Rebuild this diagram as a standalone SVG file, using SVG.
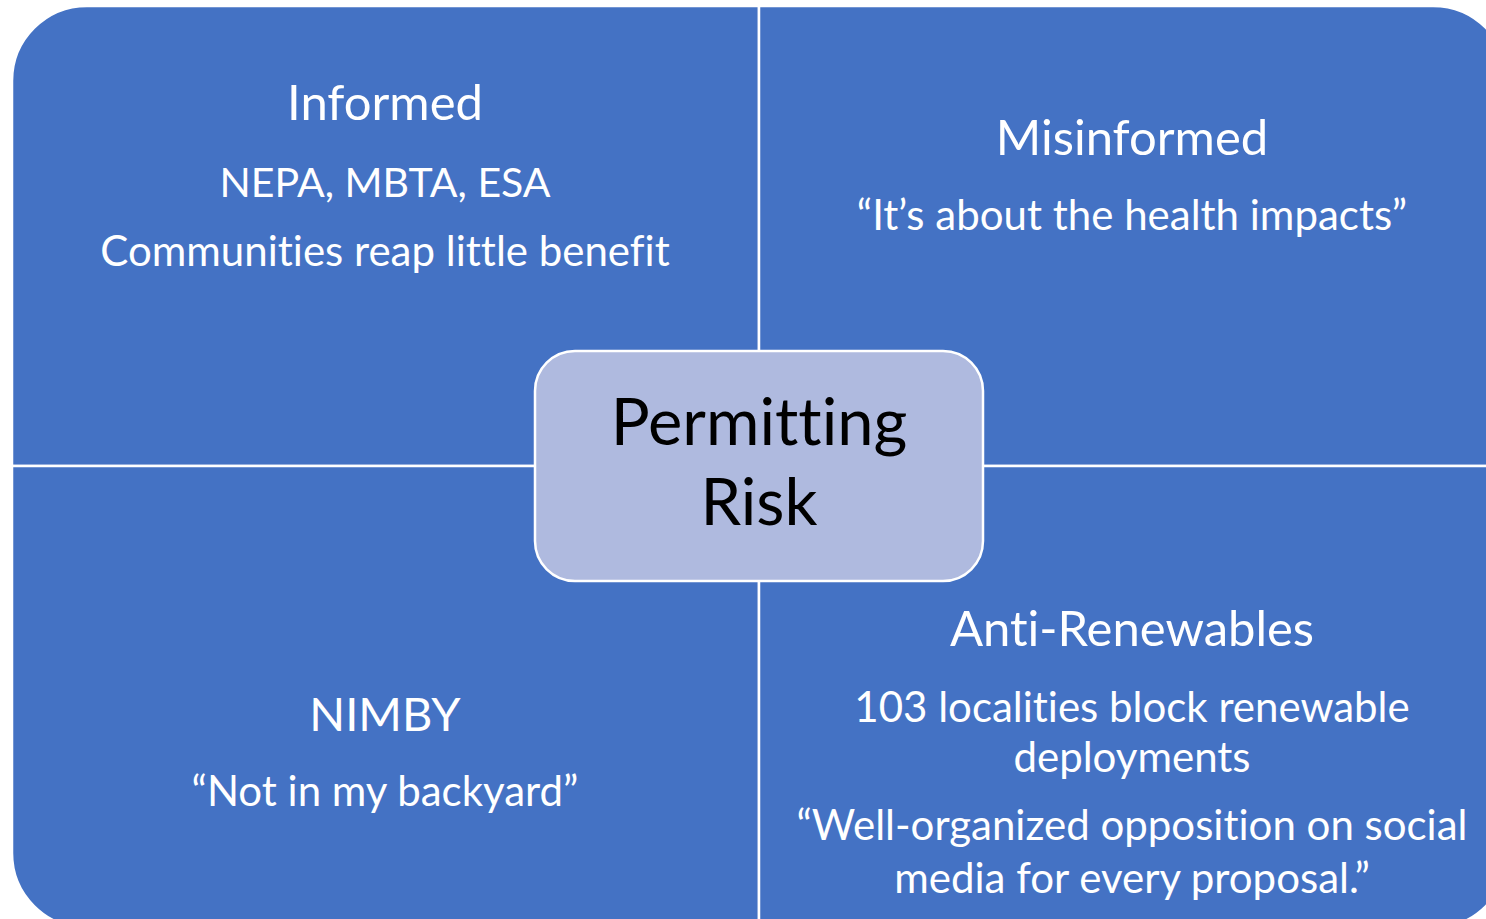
<svg xmlns="http://www.w3.org/2000/svg" width="1486" height="919" viewBox="0 0 1486 919">
<style>
.q{fill:#4472C4;stroke:#FFFFFF;stroke-width:2.5}
.t{font-family:Lato,"Open Sans","Liberation Sans",sans-serif;fill:#FFFFFF;text-anchor:middle;font-variant-ligatures:none;font-feature-settings:"liga" 0,"clig" 0}
.h{font-size:49px}
.s{font-size:42px}
.c{fill:#AFBADF;stroke:#FFFFFF;stroke-width:2.5}
.ct{font-family:Lato,"Open Sans","Liberation Sans",sans-serif;fill:#000000;text-anchor:middle;font-size:65px;font-variant-ligatures:none;font-feature-settings:"liga" 0,"clig" 0}
</style>
<rect width="1486" height="919" fill="#FFFFFF"/>
<g id="informed">
<path class="q" d="M12,81 A75,75 0 0 1 87,6 L759,6 L759,466 L12,466 Z"/>
<text class="t h" x="385" y="120">Informed</text>
<text class="t s" x="385" y="197" style="font-size:41px">NEPA, MBTA, ESA</text>
<text class="t s" x="385" y="266">Communities reap little benefit</text>
</g>
<g id="misinformed">
<path class="q" d="M759,6 L1433,6 A75,75 0 0 1 1508,81 L1508,466 L759,466 Z"/>
<text class="t h" x="1132" y="155">Misinformed</text>
<text class="t s" x="1132" y="230">“It’s about the health impacts”</text>
</g>
<g id="nimby">
<path class="q" d="M12,466 L759,466 L759,928 L87,928 A75,75 0 0 1 12,853 Z"/>
<text class="t h" x="385" y="731" style="font-size:47px">NIMBY</text>
<text class="t s" x="385" y="806">“Not in my backyard”</text>
</g>
<g id="anti-renewables">
<path class="q" d="M759,466 L1508,466 L1508,853 A75,75 0 0 1 1433,928 L759,928 Z"/>
<text class="t h" x="1132" y="646">Anti-Renewables</text>
<text class="t s" x="1132" y="722">103 localities block renewable</text>
<text class="t s" x="1132" y="772">deployments</text>
<text class="t s" x="1132" y="840">“Well-organized opposition on social</text>
<text class="t s" x="1132" y="893">media for every proposal.”</text>
</g>
<g id="connectors"></g>
<g id="permitting-risk">
<rect class="c" x="535" y="351" width="448" height="230" rx="40" ry="40"/>
<text class="ct" x="759" y="445">Permitting</text>
<text class="ct" x="759" y="525">Risk</text>
</g>
</svg>
